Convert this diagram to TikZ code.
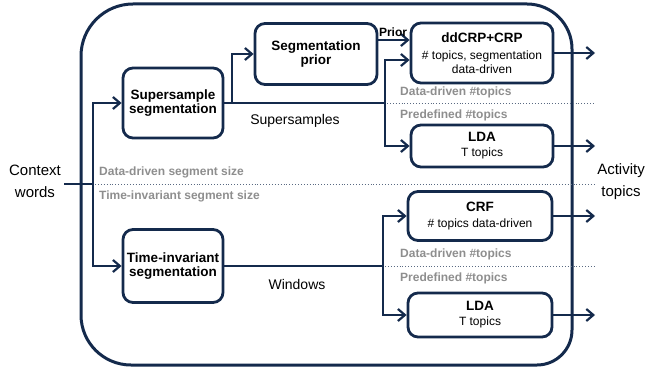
\documentclass[tikz,border=0pt]{standalone}
\usepackage{fontspec}
\setmainfont{Liberation Sans}
\usetikzlibrary{positioning,arrows.meta}
\definecolor{navy}{HTML}{142A4C}
\definecolor{lbl}{HTML}{8E8E8E}

\begin{document}
\begin{tikzpicture}[x=1pt, y=-1pt, >={Straight Barb[length=7pt,width=12pt]},
  box/.style={draw=navy, line width=2.8pt, rounded corners=10pt, align=center, inner sep=1pt, font=\fontsize{12}{14}\selectfont},
  conn/.style={draw=navy, line width=2.2pt},
  sep/.style={draw=navy!70, dotted, line width=0.9pt},
  tag/.style={text=lbl, font=\fontsize{12}{14}\selectfont\bfseries, anchor=west, inner sep=0pt},
  plain/.style={font=\fontsize{15}{22}\selectfont, align=center}]
\useasboundingbox (0,0) rectangle (647,371);
% frame
\draw[navy, line width=3pt] (81,200) [rounded corners=52pt] |- (330,4)
  [rounded corners=45pt] -| (572,200) [rounded corners=35pt] |- (330,365)
  [rounded corners=50pt] -| cycle;

% boxes
\node (SS) [box, minimum width=100pt, minimum height=70pt, font=\fontsize{13.5}{14.5}\selectfont\bfseries] at (173,103) {Supersample\\segmentation};
\node (TI) [box, minimum width=100pt, minimum height=73pt, font=\fontsize{13.5}{14.5}\selectfont\bfseries] at (173,266) {Time-invariant\\segmentation};
\node (SP) [box, minimum width=122pt, minimum height=61pt, font=\fontsize{13.5}{14.5}\selectfont\bfseries] at (316,54) {Segmentation\\prior};
\node (DD) [box, minimum width=142pt, minimum height=60pt] at (482,53) {{\fontsize{13.5}{15}\selectfont\bfseries ddCRP+CRP}\\[3pt]\# topics, segmentation\\data-driven};
\node (L1) [box, minimum width=142pt, minimum height=42pt] at (482,146) {{\fontsize{13.5}{15}\selectfont\bfseries LDA}\\[1pt]T topics};
\node (CRF) [box, minimum width=144pt, minimum height=49pt] at (480,216) {{\fontsize{13.5}{15}\selectfont\bfseries CRF}\\[2pt]\# topics data-driven};
\node (L2) [box, minimum width=144pt, minimum height=44pt] at (480,315) {{\fontsize{13.5}{15}\selectfont\bfseries LDA}\\[1pt]T topics};

% outer texts
\node (CW) [plain] at (35,181) {Context\\words};
\node (AT) [plain] at (621,182) {Activity\\topics};
\node (SU) [font=\fontsize{14}{16}\selectfont] at (295,121) {Supersamples};
\node (WI) [font=\fontsize{14}{16}\selectfont] at (297,284) {Windows};

% separators
\draw[sep] (95,184) -- (595,184);
\draw[sep] (387,103) -- (595,103);
\draw[sep] (385,266) -- (595,266);
\node[tag] at (99,172) {Data-driven segment size};
\node[tag] at (99,196) {Time-invariant segment size};
\node[tag] at (400,92) {Data-driven \#topics};
\node[tag] at (400,115) {Predefined \#topics};
\node[tag] at (400,254) {Data-driven \#topics};
\node[tag] at (400,278) {Predefined \#topics};

% connectors
\coordinate (split) at (93,184);
\coordinate (j1) at (232,103);
\coordinate (j2) at (385,103);
\coordinate (j3) at (383,266);
\coordinate (pr) at ([yshift=13pt]DD.west);
\coordinate (ds) at ([yshift=-7pt]DD.west);
\coordinate (out) at (595,0);
\draw[conn] (CW.east |- split) -- (split);
\draw[conn,->] (split) |- (SS.west);
\draw[conn,->] (split) |- (TI.west);
\draw[conn,->] (SS.east) -- (j1) |- (SP.west);
\draw[conn] (SS.east) -- (j2);
\draw[conn,->] (j2) |- (ds);
\draw[conn,->] (j2) |- (L1.west);
\draw[conn,->] (pr -| SP.east) -- node[above=2pt, font=\fontsize{12}{14}\selectfont\bfseries, inner sep=0pt, xshift=-1pt] {Prior} (pr);
\draw[conn] (TI.east) -- (j3);
\draw[conn,->] (j3) |- (CRF.west);
\draw[conn,->] (j3) |- (L2.west);
\draw[conn,->] (DD.east) -- (DD.east -| out);
\draw[conn,->] (L1.east) -- (L1.east -| out);
\draw[conn,->] (CRF.east) -- (CRF.east -| out);
\draw[conn,->] (L2.east) -- (L2.east -| out);
\end{tikzpicture}
\end{document}
